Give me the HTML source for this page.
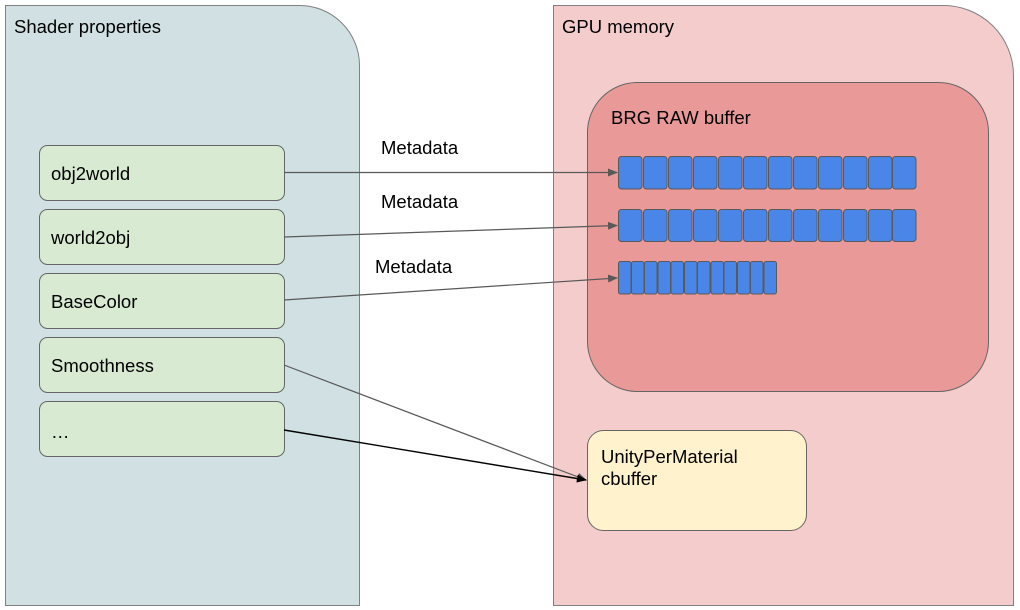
<!DOCTYPE html>
<html><head><meta charset="utf-8"><style>
html,body{margin:0;padding:0;background:#fff;}
svg{display:block;font-family:"Liberation Sans",Arial,sans-serif;}
</style></head><body>
<svg width="1020" height="610" viewBox="0 0 1020 610" xmlns="http://www.w3.org/2000/svg">
<defs>
<marker id="a" markerWidth="10" markerHeight="8" refX="9" refY="4" orient="auto" markerUnits="userSpaceOnUse"><path d="M0,0 L10,4 L0,8 z" fill="#595959"/></marker>
<marker id="b" markerWidth="10" markerHeight="8" refX="9" refY="4" orient="auto" markerUnits="userSpaceOnUse"><path d="M0,0 L10,4 L0,8 z" fill="#000"/></marker>
</defs>
<path d="M5.5,5.5 H299 A60,60 0 0 1 359.5,65 V605.5 H5.5 Z" fill="#d0e0e3" stroke="#808080"/>
<text x="14" y="33" font-size="18.5" fill="#000">Shader properties</text>
<path d="M553.5,5.5 H943 A70,70 0 0 1 1013.5,75 V605.5 H553.5 Z" fill="#f4cccc" stroke="#808080"/>
<text x="562" y="33" font-size="18.5" fill="#000">GPU memory</text>
<rect x="587.5" y="82.5" width="401" height="309" rx="50" fill="#ea9999" stroke="#666"/>
<text x="611" y="124" font-size="18.5">BRG RAW buffer</text>
<g fill="#4a86e8" stroke="#595959" stroke-width="1">
<rect x="618.5" y="156.5" width="23.5" height="32.5" rx="3"/><rect x="643.5" y="156.5" width="23.5" height="32.5" rx="3"/><rect x="668.5" y="156.5" width="23.5" height="32.5" rx="3"/><rect x="693.5" y="156.5" width="23.5" height="32.5" rx="3"/><rect x="718.5" y="156.5" width="23.5" height="32.5" rx="3"/><rect x="743.5" y="156.5" width="23.5" height="32.5" rx="3"/><rect x="768.5" y="156.5" width="23.5" height="32.5" rx="3"/><rect x="793.5" y="156.5" width="23.5" height="32.5" rx="3"/><rect x="818.5" y="156.5" width="23.5" height="32.5" rx="3"/><rect x="843.5" y="156.5" width="23.5" height="32.5" rx="3"/><rect x="868.5" y="156.5" width="23.5" height="32.5" rx="3"/><rect x="892.5" y="156.5" width="23.5" height="32.5" rx="3"/>
<rect x="618.5" y="209.5" width="23.5" height="32" rx="3"/><rect x="643.5" y="209.5" width="23.5" height="32" rx="3"/><rect x="668.5" y="209.5" width="23.5" height="32" rx="3"/><rect x="693.5" y="209.5" width="23.5" height="32" rx="3"/><rect x="718.5" y="209.5" width="23.5" height="32" rx="3"/><rect x="743.5" y="209.5" width="23.5" height="32" rx="3"/><rect x="768.5" y="209.5" width="23.5" height="32" rx="3"/><rect x="793.5" y="209.5" width="23.5" height="32" rx="3"/><rect x="818.5" y="209.5" width="23.5" height="32" rx="3"/><rect x="843.5" y="209.5" width="23.5" height="32" rx="3"/><rect x="868.5" y="209.5" width="23.5" height="32" rx="3"/><rect x="892.5" y="209.5" width="23.5" height="32" rx="3"/>
<rect x="618.5" y="261.5" width="12.5" height="32.5" rx="2"/><rect x="631.5" y="261.5" width="12.5" height="32.5" rx="2"/><rect x="644.5" y="261.5" width="12.5" height="32.5" rx="2"/><rect x="658" y="261.5" width="12.5" height="32.5" rx="2"/><rect x="671" y="261.5" width="12.5" height="32.5" rx="2"/><rect x="684.5" y="261.5" width="12.5" height="32.5" rx="2"/><rect x="697.5" y="261.5" width="12.5" height="32.5" rx="2"/><rect x="711" y="261.5" width="12.5" height="32.5" rx="2"/><rect x="724" y="261.5" width="12.5" height="32.5" rx="2"/><rect x="737.5" y="261.5" width="12.5" height="32.5" rx="2"/><rect x="750.5" y="261.5" width="12.5" height="32.5" rx="2"/><rect x="764" y="261.5" width="12.5" height="32.5" rx="2"/>
</g>
<rect x="587.5" y="430.5" width="219" height="100" rx="16" fill="#fff2cc" stroke="#666"/>
<text x="601" y="463" font-size="18.5">UnityPerMaterial</text>
<text x="601" y="485" font-size="18.5">cbuffer</text>
<g fill="#d9ead3" stroke="#666">
<rect x="39.5" y="145.5" width="245" height="55" rx="8"/>
<rect x="39.5" y="209.5" width="245" height="55" rx="8"/>
<rect x="39.5" y="273.5" width="245" height="55" rx="8"/>
<rect x="39.5" y="337.5" width="245" height="55" rx="8"/>
<rect x="39.5" y="401.5" width="245" height="55" rx="8"/>
</g>
<g font-size="18.5">
<text x="51" y="180">obj2world</text>
<text x="51" y="244">world2obj</text>
<text x="51" y="308">BaseColor</text>
<text x="51" y="372">Smoothness</text>
<text x="51" y="438">…</text>
<text x="381" y="154">Metadata</text>
<text x="381" y="208">Metadata</text>
<text x="375" y="273">Metadata</text>
</g>
<g stroke="#595959" stroke-width="1.2" fill="none">
<line x1="284" y1="172.5" x2="617" y2="172.5" marker-end="url(#a)"/>
<line x1="284" y1="237" x2="617" y2="225.5" marker-end="url(#a)"/>
<line x1="284" y1="300" x2="617" y2="278" marker-end="url(#a)"/>
<line x1="284" y1="365" x2="586" y2="480" marker-end="url(#a)"/>
</g>
<line x1="284" y1="430" x2="586" y2="480" stroke="#000" stroke-width="1.4" marker-end="url(#b)"/>
</svg>
</body></html>
